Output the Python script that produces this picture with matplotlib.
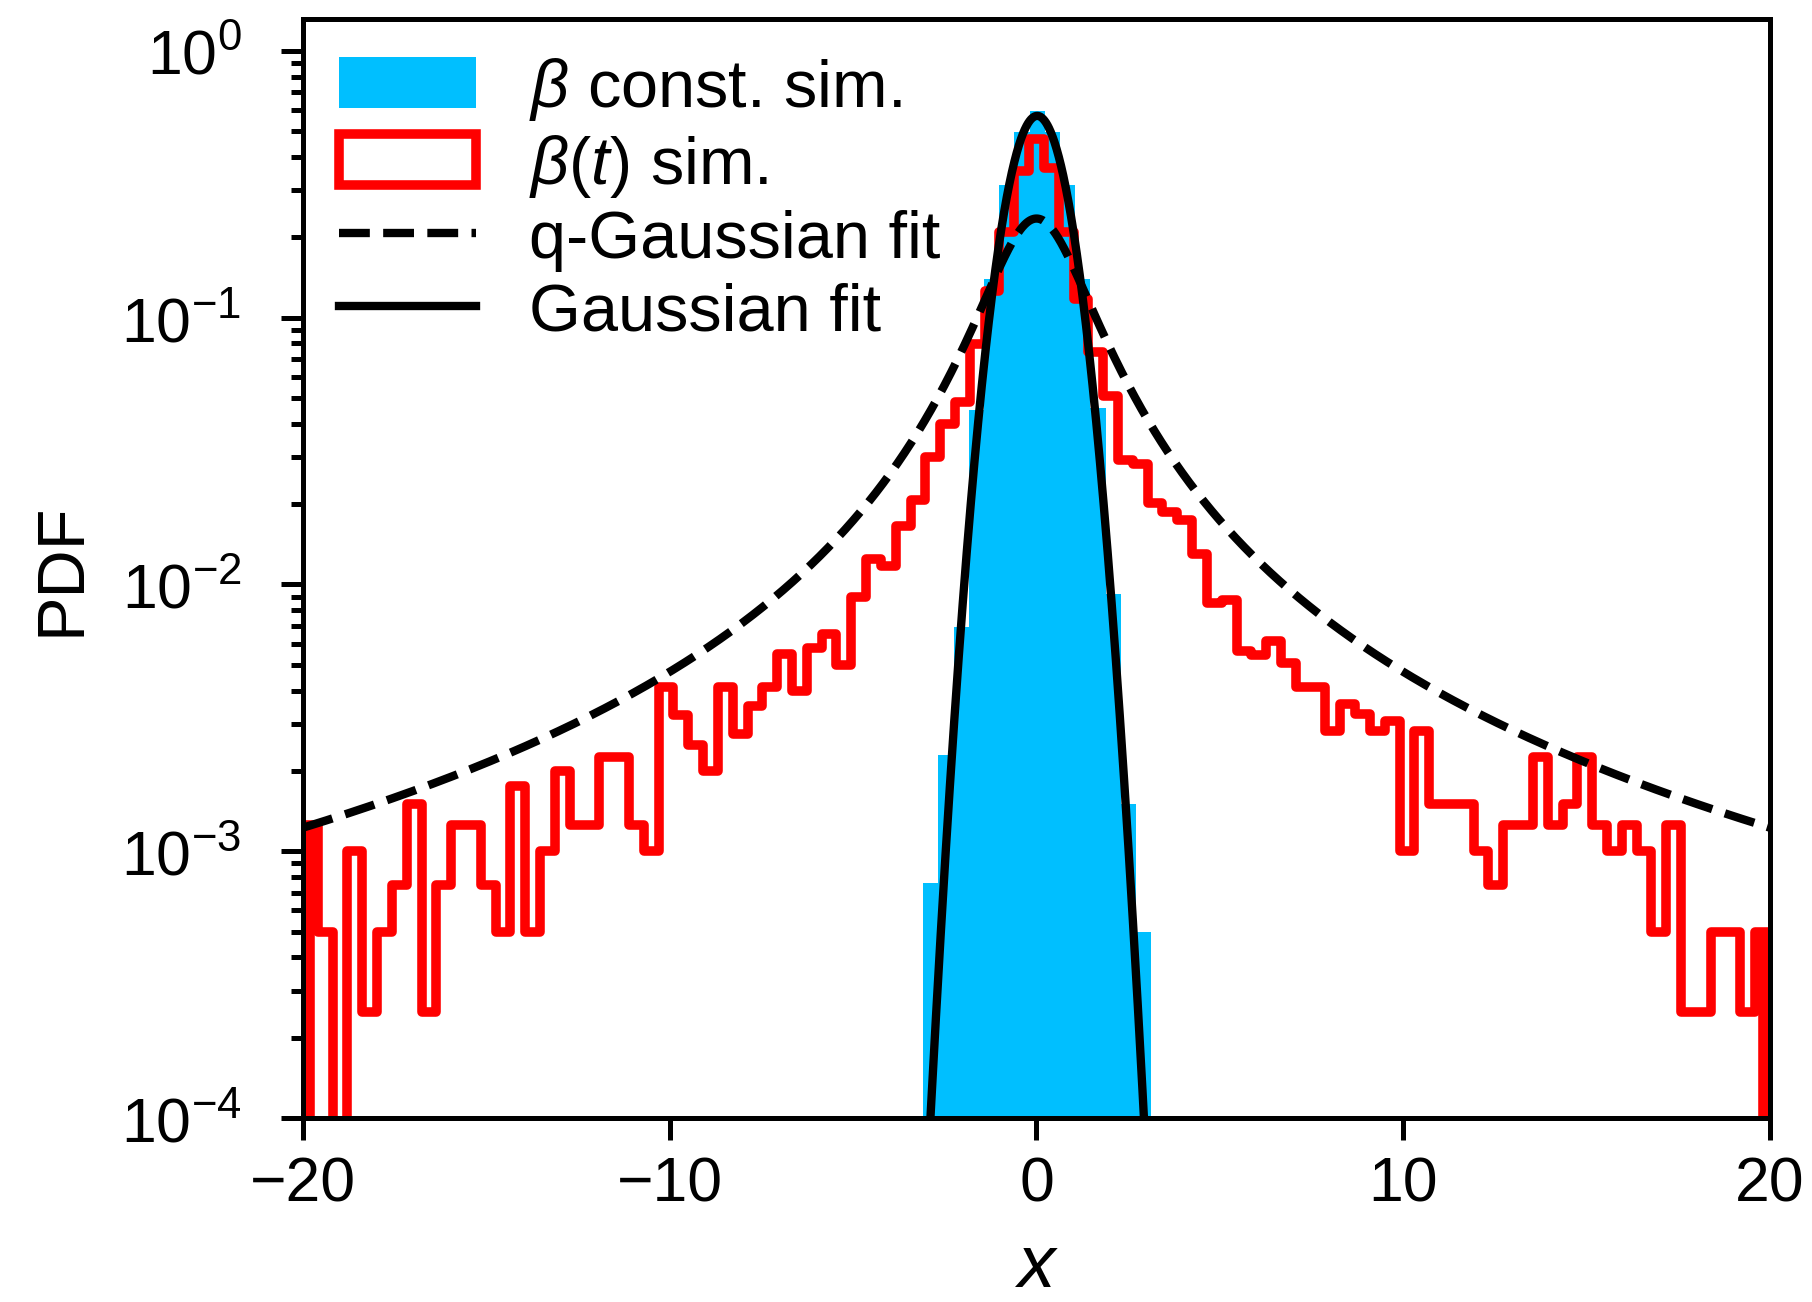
import numpy as np
import matplotlib
matplotlib.use("Agg")
import matplotlib.pyplot as plt

plt.rcParams["font.family"] = ["Liberation Sans", "DejaVu Sans"]
plt.rcParams["mathtext.fontset"] = "custom"
plt.rcParams["mathtext.rm"] = "Liberation Sans"
plt.rcParams["mathtext.it"] = "Liberation Sans:italic"
plt.rcParams["mathtext.bf"] = "Liberation Sans:bold"

# beta(t) simulation: 99 bins on [-20, 20], values read as counts x pdf_unit
red_edges = np.linspace(-20, 20, 100)
red_counts = [5, 2, 0, 4, 1, 2, 3, 6, 1, 3,
              5, 5, 3, 2, 7, 2, 4, 8, 5, 5,
              9, 9, 5, 4, 16.5, 13, 10, 8, 16.5, 11,
              14, 16.5, 22, 16, 23, 26, 20, 36, 50, 47,
              66, 83, 120, 160, 193, 318, 505, 836, 1422, 1860,
              1456, 836, 470, 297, 203, 117, 113, 81, 75, 70,
              52, 34, 35, 22.6, 21.7, 24.6, 20.3, 16.5, 16.5, 11.3,
              14.3, 13.1, 11.3, 12.3, 4, 11.3, 6, 6, 6, 4,
              3, 5, 5, 9, 5, 6, 9, 5, 4, 5,
              4, 2, 5, 1, 1, 2, 2, 1, 2]
pdf_unit = 2.5e-4

# beta const. simulation: 15 bins
blue_edges = np.linspace(-3.09, 3.13, 16)
blue_pdf = [7.6e-4, 2.3e-3, 6.9e-3, 0.045, 0.14, 0.313, 0.495, 0.597,
            0.495, 0.313, 0.140, 0.046, 9.2e-3, 1.5e-3, 5.0e-4]

# fit parameters
gauss_mu, gauss_sigma = 0.02, 0.70
qg_amp, qg_q, qg_beta = 0.235, 2.02, 0.52

red_pdf = np.array(red_counts) * pdf_unit
red_centers = 0.5 * (red_edges[1:] + red_edges[:-1])
blue_centers = 0.5 * (blue_edges[1:] + blue_edges[:-1])

xs = np.linspace(-20, 20, 4001)
gauss = np.exp(-(xs - gauss_mu) ** 2 / (2 * gauss_sigma ** 2)) / (gauss_sigma * np.sqrt(2 * np.pi))
qgauss = qg_amp * (1 + (qg_q - 1) * qg_beta * xs ** 2) ** (1 / (1 - qg_q))

ymin, ymax = 1e-4, 1.32

fig = plt.figure(figsize=(6.04, 4.3433), dpi=300)
ax = fig.add_axes([0.1672, 0.1412, 0.8096, 0.8438])

ax.hist(blue_centers, bins=blue_edges, weights=blue_pdf, histtype="stepfilled",
        color="#00BFFF", label=r"$\beta$ const. sim.", zorder=1)
ax.hist(red_centers, bins=red_edges, weights=red_pdf, histtype="step",
        color="red", lw=2.3, joinstyle="round", label=r"$\beta(t)$ sim.", zorder=2)
ax.vlines([red_centers[0], red_centers[-1]], ymin, [red_pdf[0], red_pdf[-1]],
          color="red", lw=2.3, zorder=2)
ax.plot(xs, qgauss, color="black", lw=2, linestyle="--", label="q-Gaussian fit", zorder=3)
ax.plot(xs, gauss, color="black", lw=2, label="Gaussian fit", zorder=3)

ax.set_yscale("log")
ax.set_xlim(-20, 20)
ax.set_ylim(ymin, ymax)
ax.set_xticks([-20, -10, 0, 10, 20])
ax.xaxis.set_minor_locator(matplotlib.ticker.NullLocator())

for s in ax.spines.values():
    s.set_linewidth(1.2)
ax.tick_params(which="both", direction="out", width=1.2, labelsize=15)
ax.tick_params(which="major", length=5.3)
ax.tick_params(which="minor", length=3)
ax.tick_params(axis="y", which="major", pad=9.5)

ax.set_xlabel("$x$", fontsize=18, labelpad=4.5)
ax.set_ylabel("PDF", fontsize=16, labelpad=6.5)

ax.legend(loc="upper left", frameon=False, fontsize=16, handlelength=2.05,
          handleheight=0.8, handletextpad=0.8, labelspacing=0.15,
          borderaxespad=0.22, borderpad=0.32)

fig.savefig("out.png", dpi=300)
